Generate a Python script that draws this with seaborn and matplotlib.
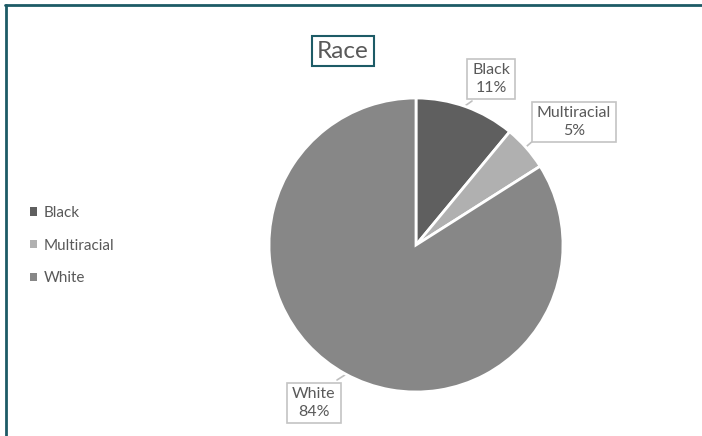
import matplotlib
matplotlib.use("Agg")
import matplotlib.pyplot as plt
import seaborn as sns
from matplotlib.lines import Line2D
from matplotlib.patches import Rectangle

# Data
categories = ["Black", "Multiracial", "White"]
shares = [11, 5, 84]
slice_colors = ["#5f5f5f", "#b0b0b0", "#878787"]

sns.set_theme(style="white")
plt.rcParams["font.family"] = ["Lato", "DejaVu Sans"]

W, H = 702, 436
fig = plt.figure(figsize=(W / 100, H / 100), dpi=100)
ax = fig.add_axes([0, 0, 1, 1])
ax.set_xlim(0, W)
ax.set_ylim(H, 0)
ax.axis("off")

text_col = "#595959"
teal = "#1d5b66"

# Pie drawn in a separate axes so wedges keep the normal orientation
cx, cy, r = 416, 245, 147
pax = fig.add_axes([(cx - r) / W, (H - cy - r) / H, 2 * r / W, 2 * r / H])
pax.pie(shares, colors=slice_colors, startangle=90, counterclock=False,
        radius=1.0, wedgeprops=dict(edgecolor="white", linewidth=2))
pax.set_xlim(-1, 1)
pax.set_ylim(-1, 1)
pax.axis("off")

# Outer frame
ax.add_line(Line2D([5, W], [5, 5], color=teal, lw=2))
ax.add_line(Line2D([6, 6], [5, H], color=teal, lw=2))

# Title in a box
ax.text(343, 51, "Race", ha="center", va="center", fontsize=17.5, color=text_col,
        bbox=dict(boxstyle="square,pad=0.2", fc="white", ec=teal, lw=1.5))

# Data-label callouts
label_pos = {"Black": (491, 79), "Multiracial": (574, 122), "White": (314, 403)}
tips = {"Black": (462, 108), "Multiracial": (527, 146), "White": (348, 373)}
roots = {"Black": (472, 101), "Multiracial": (534, 140), "White": (337, 380)}
for cat, val in zip(categories, shares):
    x, y = label_pos[cat]
    ax.annotate("", xy=tips[cat], xytext=roots[cat],
                arrowprops=dict(arrowstyle="-", color="#bfbfbf", lw=1.2,
                                shrinkA=0, shrinkB=0))
    ax.text(x, y, f"{cat}\n{val}%", ha="center", va="center", fontsize=11.5,
            color=text_col, linespacing=1.3,
            bbox=dict(boxstyle="square,pad=0.3", fc="white", ec="#c4c4c4", lw=1.2))

# Legend
handles = [Rectangle((0, 0), 1, 1, fc=c, ec="none") for c in slice_colors]
leg = fig.legend(handles, categories, loc="upper left",
                 bbox_to_anchor=(30 / W, 1 - 206 / H), frameon=False,
                 borderpad=0, borderaxespad=0,
                 fontsize=11, handlelength=0.45, handleheight=0.45,
                 handletextpad=0.45, labelspacing=1.22, labelcolor=text_col)

fig.savefig("out.png", dpi=100)
